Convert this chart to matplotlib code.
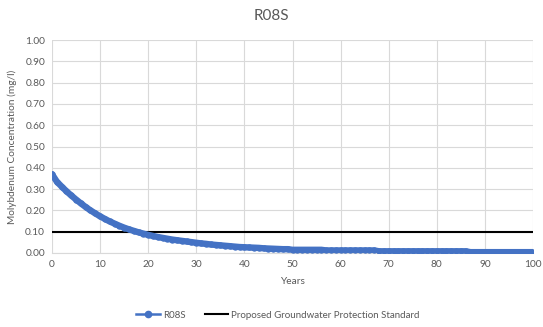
import matplotlib
matplotlib.use("Agg")
import matplotlib.pyplot as plt

plt.rcParams['font.family'] = ['Lato', 'DejaVu Sans']

years = list(range(0, 101))
concentration = [
    0.370, 0.335, 0.312, 0.290, 0.270, 0.251, 0.233, 0.216, 0.200, 0.186,
    0.172, 0.160, 0.148, 0.138, 0.128, 0.119, 0.111, 0.104, 0.097, 0.091,
    0.085, 0.080, 0.075, 0.071, 0.067, 0.063, 0.060, 0.057, 0.054, 0.051,
    0.048, 0.045, 0.043, 0.040, 0.038, 0.036, 0.034, 0.032, 0.030, 0.028,
    0.027, 0.026, 0.025, 0.024, 0.022, 0.021, 0.020, 0.019, 0.018, 0.018,
    0.015, 0.015, 0.015, 0.015, 0.015, 0.015, 0.015, 0.012, 0.012, 0.012,
    0.012, 0.012, 0.012, 0.012, 0.012, 0.012, 0.012, 0.012, 0.008, 0.008,
    0.008, 0.008, 0.008, 0.008, 0.008, 0.008, 0.008, 0.008, 0.008, 0.008,
    0.008, 0.008, 0.008, 0.008, 0.008, 0.008, 0.008, 0.004, 0.004, 0.004,
    0.004, 0.004, 0.004, 0.004, 0.004, 0.004, 0.004, 0.004, 0.004, 0.004,
    0.004,
]
standard = 0.10
x_ticks = list(range(0, 101, 10))
y_ticks = [i / 10 for i in range(0, 11)]

text_col = '#595959'
grid_col = '#D9D9D9'
blue = '#4472C4'

fig = plt.figure(figsize=(5.43, 3.27), dpi=100)
ax = fig.add_axes([52 / 543, 1 - 253 / 327, (533 - 52) / 543, (253 - 40) / 327])

# thick series line; dense markers merge into a solid band
ax.plot(years, concentration, color=blue, lw=4.6, marker='o', ms=4.6,
        markeredgewidth=0, solid_capstyle='round', solid_joinstyle='round',
        zorder=3)
ax.plot([0, 100], [standard, standard], color='black', lw=1.5, zorder=2)

# legend proxies
h1, = ax.plot([], [], color=blue, lw=1.8, marker='o', ms=4.5, label='R08S')
h2, = ax.plot([], [], color='black', lw=1.5,
              label='Proposed Groundwater Protection Standard')

ax.set_xlim(0, 100)
ax.set_ylim(0, 1.0)
ax.set_xticks(x_ticks)
ax.set_yticks(y_ticks)
ax.set_yticklabels([f'{v:.2f}' for v in y_ticks])
ax.grid(True, color=grid_col, lw=0.8)
ax.set_axisbelow(True)
for s in ['top', 'right', 'left']:
    ax.spines[s].set_visible(False)
ax.spines['bottom'].set_color(grid_col)
ax.tick_params(length=0, colors=text_col, labelsize=7.3, pad=5)

ax.set_xlabel('Years', color=text_col, fontsize=7.3, labelpad=6)
ax.set_ylabel('Molybdenum Concentration (mg/l)', color=text_col, fontsize=7.3, labelpad=6)
fig.text(0.5, 1 - 16 / 327, 'R08S', ha='center', va='center', color=text_col, fontsize=11)

fig.legend(handles=[h1, h2], loc='center', bbox_to_anchor=(278 / 543, 1 - 315 / 327),
           ncol=2, frameon=False, fontsize=7, labelcolor=text_col,
           handlelength=2.4, handletextpad=0.3, columnspacing=2.0)

fig.savefig('out.png', dpi=100)
